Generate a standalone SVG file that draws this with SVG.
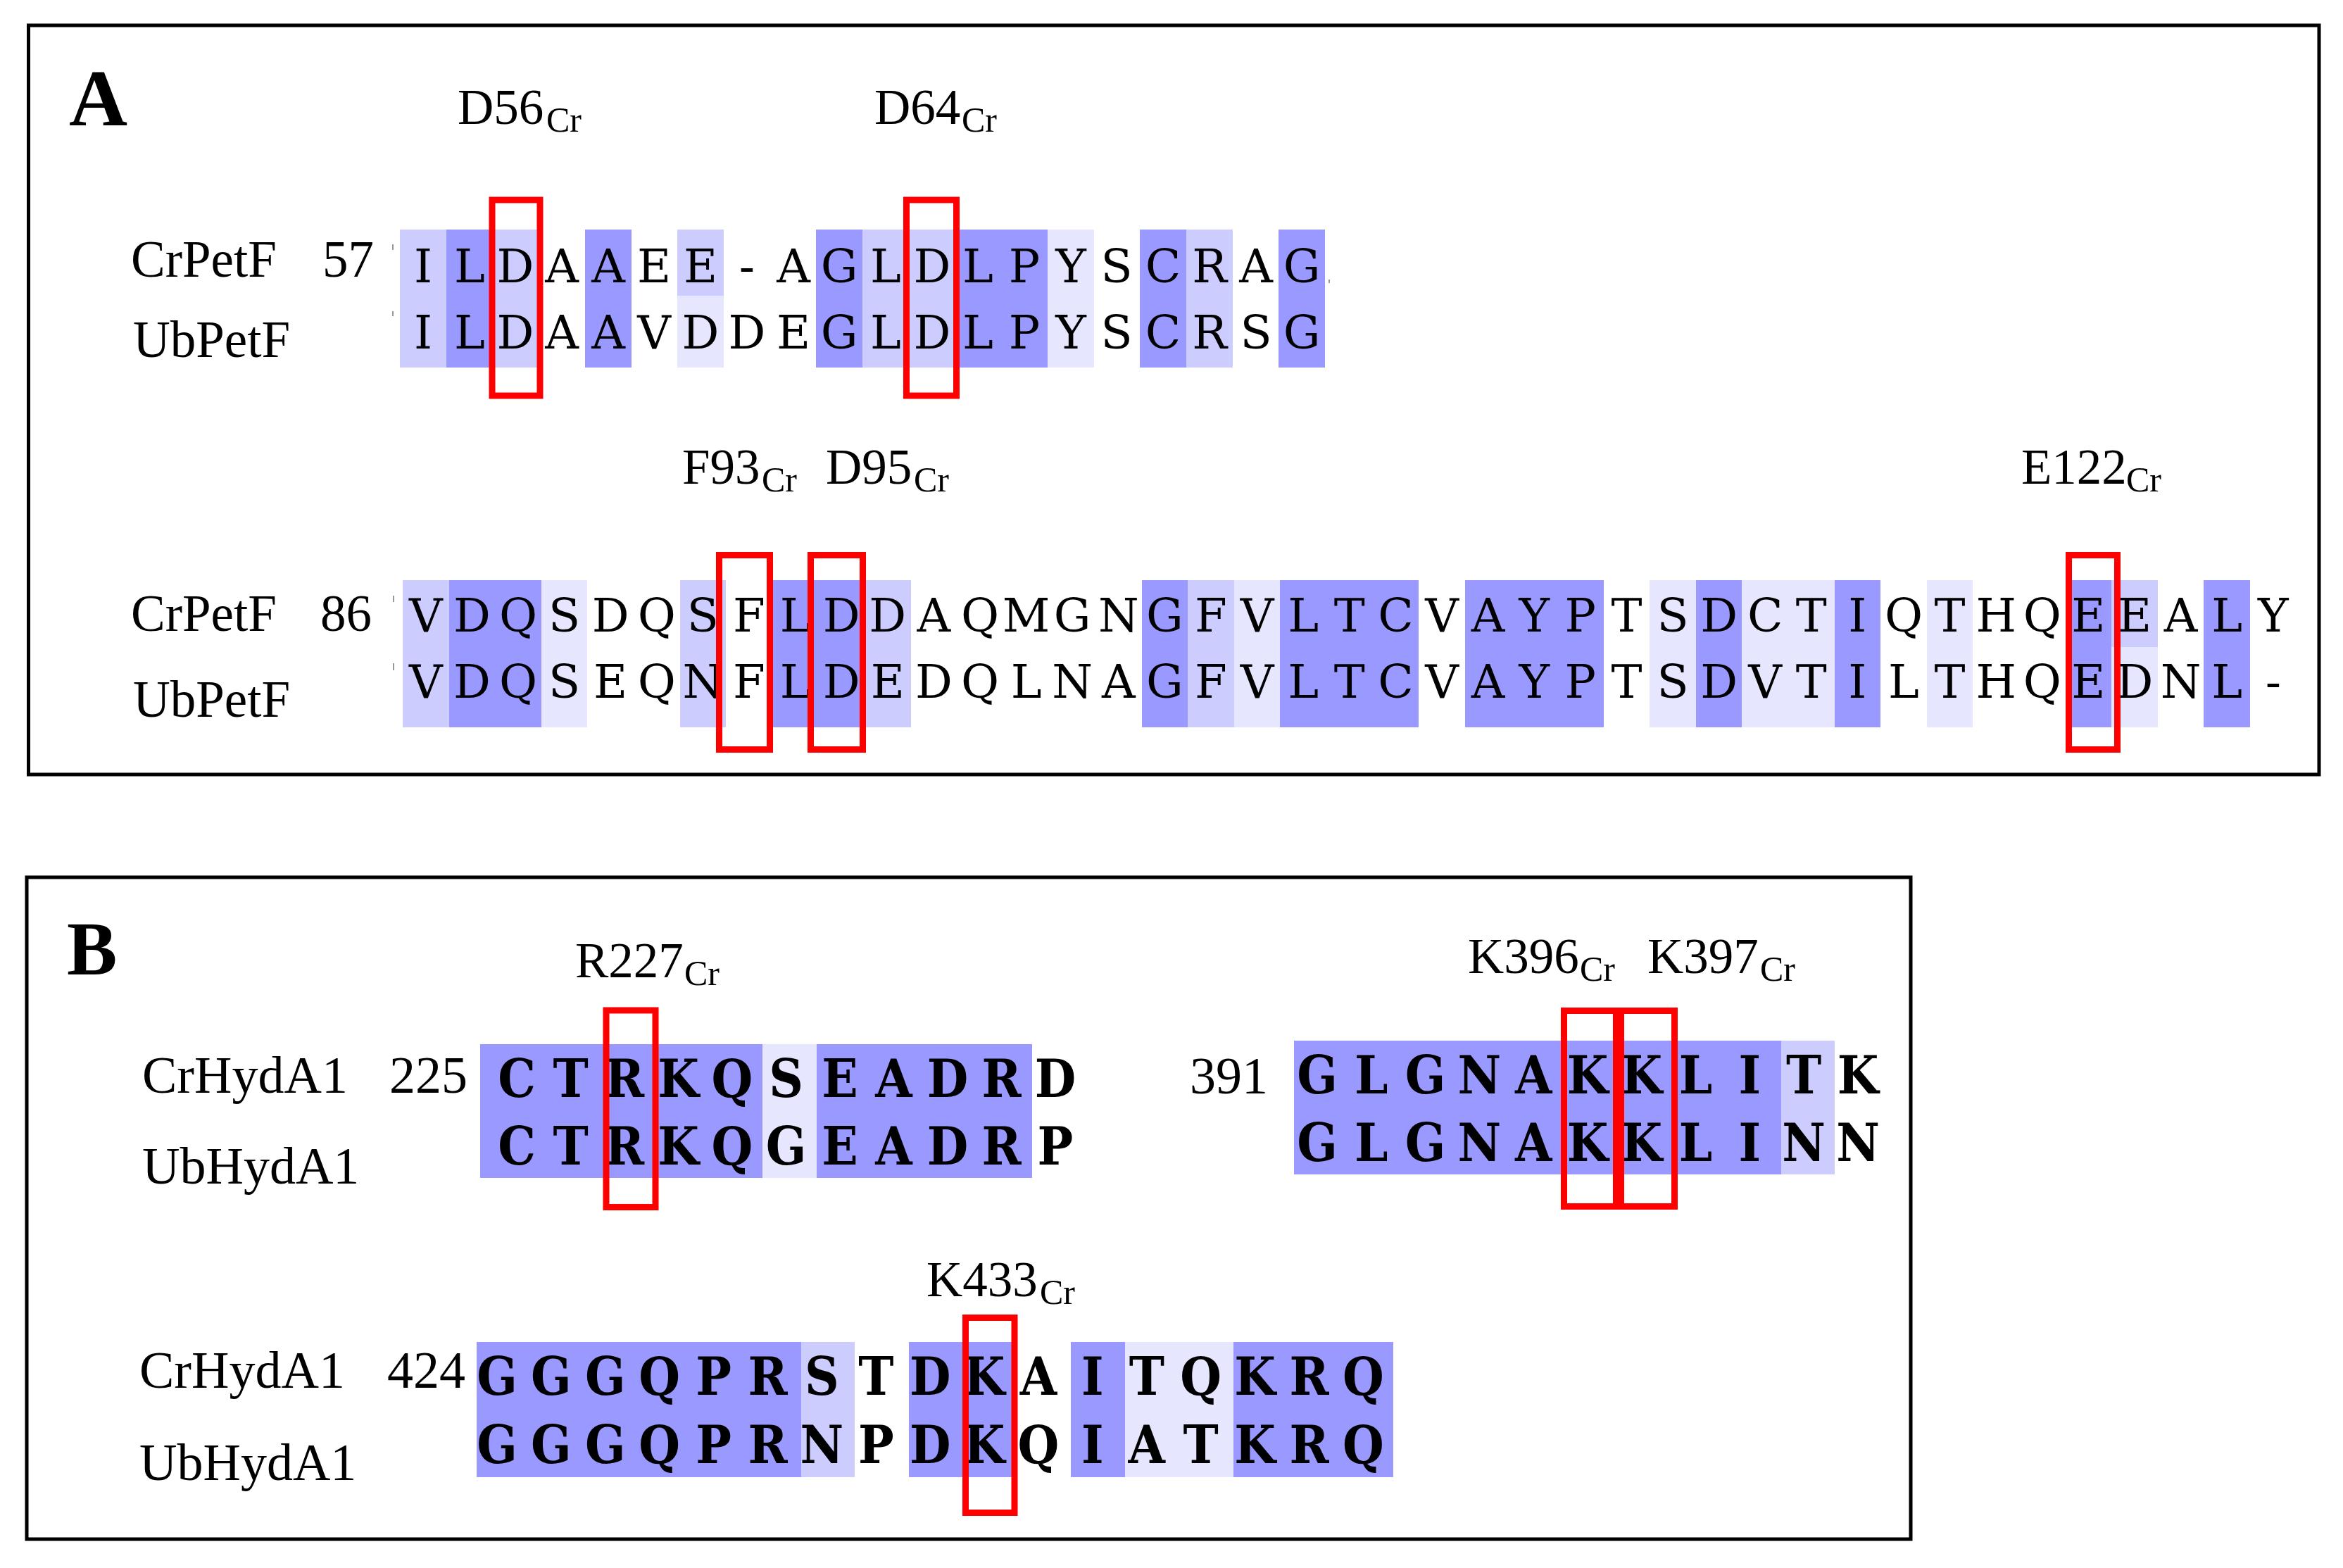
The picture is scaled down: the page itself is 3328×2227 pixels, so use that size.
<svg xmlns="http://www.w3.org/2000/svg" width="3328" height="2227" viewBox="0 0 3328 2227">
<defs>
<style>
.lbl{font-family:'Liberation Serif','Times New Roman',serif;font-size:73px;fill:#000}
.lblB{font-family:'Liberation Serif','Times New Roman',serif;font-size:74px;fill:#000}
.res{font-family:'Liberation Serif','Times New Roman',serif;font-size:71px;fill:#000}
.sub{font-size:50px}
.panel{font-family:'Liberation Serif','Times New Roman',serif;font-weight:bold;fill:#000}
.seqA{font-family:'DejaVu Serif',serif;font-size:66px;text-anchor:middle;fill:#000}
.seqB{font-family:'DejaVu Serif Condensed','DejaVu Serif',serif;font-weight:bold;font-size:75px;text-anchor:middle;fill:#000}
.d{fill:#9999FF}
.m{fill:#CCCCFF}
.l{fill:#E6E6FF}
.shade rect{shape-rendering:crispEdges}
.hl{fill:none;stroke:#FF0000;stroke-width:9}
.frame{fill:none;stroke:#000;stroke-width:5}
.tick{stroke:#999;stroke-width:2}
</style>
</defs>
<rect width="3328" height="2227" fill="#FFFFFF"/>

<g id="panelA">
<rect class="frame" x="40.5" y="36" width="3253.5" height="1064"/>
<text class="panel" x="98" y="178" font-size="115">A</text>

<g id="A-block1">
<g class="shade">
<rect class="m" x="568" y="326" width="65.7" height="196"/>
<rect class="d" x="633.7" y="326" width="65.7" height="196"/>
<rect class="m" x="699.4" y="326" width="65.7" height="196"/>
<rect class="d" x="830.8" y="326" width="65.7" height="196"/>
<rect class="m" x="962.2" y="326" width="65.7" height="94"/>
<rect class="l" x="962.2" y="420" width="65.7" height="102"/>
<rect class="d" x="1159.3" y="326" width="65.7" height="196"/>
<rect class="m" x="1225" y="326" width="131.4" height="196"/>
<rect class="d" x="1356.4" y="326" width="131.4" height="196"/>
<rect class="l" x="1487.8" y="326" width="65.7" height="196"/>
<rect class="d" x="1619.2" y="326" width="65.7" height="196"/>
<rect class="m" x="1684.9" y="326" width="65.7" height="196"/>
<rect class="d" x="1816.3" y="326" width="65.7" height="196"/>
</g>
<line class="tick" x1="558" y1="347" x2="558" y2="355"/>
<line class="tick" x1="558" y1="442" x2="558" y2="449"/>
<line class="tick" x1="1888" y1="397" x2="1888" y2="402"/>
<text class="lbl" x="186" y="393">CrPetF</text>
<text class="lbl" x="458" y="393">57</text>
<text class="lbl" x="189" y="507">UbPetF</text>
<text class="seqA" x="601 667 732 798 864 929 995 1061 1127 1192 1258 1324 1389 1455 1521 1586 1652 1718 1784 1849" y="401">ILDAAEE-AGLDLPYSCRAG</text>
<text class="seqA" x="601 667 732 798 864 929 995 1061 1127 1192 1258 1324 1389 1455 1521 1586 1652 1718 1784 1849" y="495">ILDAAVDDEGLDLPYSCRSG</text>
<text class="res" y="176"><tspan x="650">D56</tspan><tspan class="sub" x="776" y="187">Cr</tspan></text>
<text class="res" y="176"><tspan x="1242">D64</tspan><tspan class="sub" x="1366" y="187">Cr</tspan></text>
</g>

<g id="A-block2">
<g class="shade">
<rect class="m" x="572" y="824" width="65.6" height="209"/>
<rect class="d" x="637.6" y="824" width="131.2" height="209"/>
<rect class="l" x="768.8" y="824" width="65.6" height="209"/>
<rect class="m" x="965.6" y="824" width="65.6" height="209"/>
<rect class="d" x="1096.8" y="824" width="131.2" height="209"/>
<rect class="m" x="1228" y="824" width="65.6" height="209"/>
<rect class="d" x="1621.6" y="824" width="65.6" height="209"/>
<rect class="m" x="1687.2" y="824" width="65.6" height="209"/>
<rect class="l" x="1752.8" y="824" width="65.6" height="209"/>
<rect class="d" x="1818.4" y="824" width="196.8" height="209"/>
<rect class="d" x="2080.8" y="824" width="196.8" height="209"/>
<rect class="l" x="2343.2" y="824" width="65.6" height="209"/>
<rect class="d" x="2408.8" y="824" width="65.6" height="209"/>
<rect class="l" x="2474.4" y="824" width="131.2" height="209"/>
<rect class="d" x="2605.6" y="824" width="65.6" height="209"/>
<rect class="l" x="2736.8" y="824" width="65.6" height="209"/>
<rect class="d" x="2933.6" y="824" width="65.6" height="209"/>
<rect class="m" x="2999.2" y="824" width="65.6" height="95"/>
<rect class="l" x="2999.2" y="919" width="65.6" height="114"/>
<rect class="d" x="3130.4" y="824" width="65.6" height="209"/>
</g>
<line class="tick" x1="559" y1="846" x2="559" y2="855"/>
<line class="tick" x1="559" y1="942" x2="559" y2="952"/>
<text class="lbl" x="186" y="896">CrPetF</text>
<text class="lbl" x="455" y="896">86</text>
<text class="lbl" x="189" y="1018">UbPetF</text>
<text class="seqA" x="604.8 670.4 736 801.6 867.2 932.8 998.4 1064 1129.6 1195.2 1260.8 1326.4 1392 1457.6 1523.2 1588.8 1654.4 1720 1785.6 1851.2 1916.8 1982.4 2048 2113.6 2179.2 2244.8 2310.4 2376 2441.6 2507.2 2572.8 2638.4 2704 2769.6 2835.2 2900.8 2966.4 3032 3097.6 3163.2 3228.8" y="897">VDQSDQSFLDDAQMGNGFVLTCVAYPTSDCTIQTHQEEALY</text>
<text class="seqA" x="604.8 670.4 736 801.6 867.2 932.8 998.4 1064 1129.6 1195.2 1260.8 1326.4 1392 1457.6 1523.2 1588.8 1654.4 1720 1785.6 1851.2 1916.8 1982.4 2048 2113.6 2179.2 2244.8 2310.4 2376 2441.6 2507.2 2572.8 2638.4 2704 2769.6 2835.2 2900.8 2966.4 3032 3097.6 3163.2 3228.8" y="991">VDQSEQNFLDEDQLNAGFVLTCVAYPTSDVTILTHQEDNL-</text>
<text class="res" y="687"><tspan x="969">F93</tspan><tspan class="sub" x="1082" y="698">Cr</tspan></text>
<text class="res" y="687"><tspan x="1173">D95</tspan><tspan class="sub" x="1298" y="698">Cr</tspan></text>
<text class="res" y="687"><tspan x="2871">E122</tspan><tspan class="sub" x="3020" y="698">Cr</tspan></text>
</g>
</g>

<g id="panelB">
<rect class="frame" x="38" y="1246" width="2676" height="940"/>
<text class="panel" x="95" y="1384" font-size="107">B</text>

<g id="B-block1">
<g class="shade">
<rect class="d" x="681.6" y="1483" width="401" height="190"/>
<rect class="l" x="1082.6" y="1483" width="77.4" height="190"/>
<rect class="d" x="1160" y="1483" width="306" height="190"/>
</g>
<text class="lblB" x="202" y="1552">CrHydA1</text>
<text class="lblB" x="553" y="1552">225</text>
<text class="lblB" x="202" y="1681">UbHydA1</text>
<text class="seqB" x="734 810.5 887 963.5 1040 1116.5 1193 1269.5 1346 1422.5 1499" y="1558">CTRKQSEADRD</text>
<text class="seqB" x="734 810.5 887 963.5 1040 1116.5 1193 1269.5 1346 1422.5 1499" y="1654">CTRKQGEADRP</text>
<text class="res" y="1388"><tspan x="817">R227</tspan><tspan class="sub" x="972" y="1399">Cr</tspan></text>
</g>

<g id="B-block2">
<g class="shade">
<rect class="d" x="1837.6" y="1478" width="692.4" height="190"/>
<rect class="m" x="2530" y="1478" width="76" height="190"/>
</g>
<text class="lblB" x="1690" y="1553">391</text>
<text class="seqB" x="1871 1947.8 2024.6 2101.4 2178.2 2255 2331.8 2408.6 2485.4 2562.2 2639" y="1553">GLGNAKKLITK</text>
<text class="seqB" x="1871 1947.8 2024.6 2101.4 2178.2 2255 2331.8 2408.6 2485.4 2562.2 2639" y="1649">GLGNAKKLINN</text>
<text class="res" y="1382"><tspan x="2085">K396</tspan><tspan class="sub" x="2244" y="1393">Cr</tspan></text>
<text class="res" y="1382"><tspan x="2340">K397</tspan><tspan class="sub" x="2500" y="1393">Cr</tspan></text>
</g>

<g id="B-block3">
<g class="shade">
<rect class="d" x="677" y="1906" width="460.5" height="192"/>
<rect class="m" x="1137.5" y="1906" width="76.8" height="192"/>
<rect class="d" x="1291" y="1906" width="153.5" height="192"/>
<rect class="d" x="1521.3" y="1906" width="76.7" height="192"/>
<rect class="l" x="1598" y="1906" width="153.5" height="192"/>
<rect class="d" x="1751.5" y="1906" width="227" height="192"/>
</g>
<text class="lblB" x="198" y="1971">CrHydA1</text>
<text class="lblB" x="550" y="1971">424</text>
<text class="lblB" x="198" y="2102">UbHydA1</text>
<text class="seqB" x="706 782.9 859.8 936.7 1013.6 1090.5 1167.4 1244.3 1321.2 1398.1 1475 1551.9 1628.8 1705.7 1782.6 1859.5 1936.4" y="1981">GGGQPRSTDKAITQKRQ</text>
<text class="seqB" x="706 782.9 859.8 936.7 1013.6 1090.5 1167.4 1244.3 1321.2 1398.1 1475 1551.9 1628.8 1705.7 1782.6 1859.5 1936.4" y="2078">GGGQPRNPDKQIATKRQ</text>
<text class="res" y="1841"><tspan x="1316">K433</tspan><tspan class="sub" x="1477" y="1852">Cr</tspan></text>
</g>
</g>

<g id="connectors">
<rect class="hl" x="699" y="284" width="68" height="278"/>
<rect class="hl" x="1287.5" y="284" width="71" height="278"/>
<rect class="hl" x="1021.5" y="788.5" width="72" height="276"/>
<rect class="hl" x="1151.5" y="788.5" width="74" height="276"/>
<rect class="hl" x="2938.5" y="788.5" width="69" height="276"/>
<rect class="hl" x="861" y="1435" width="70" height="279.5"/>
<rect class="hl" x="2221.5" y="1435.5" width="74" height="278"/>
<rect class="hl" x="2302.5" y="1435.5" width="76" height="278"/>
<rect class="hl" x="1371.5" y="1871.5" width="69.5" height="277"/>
</g>
</svg>
